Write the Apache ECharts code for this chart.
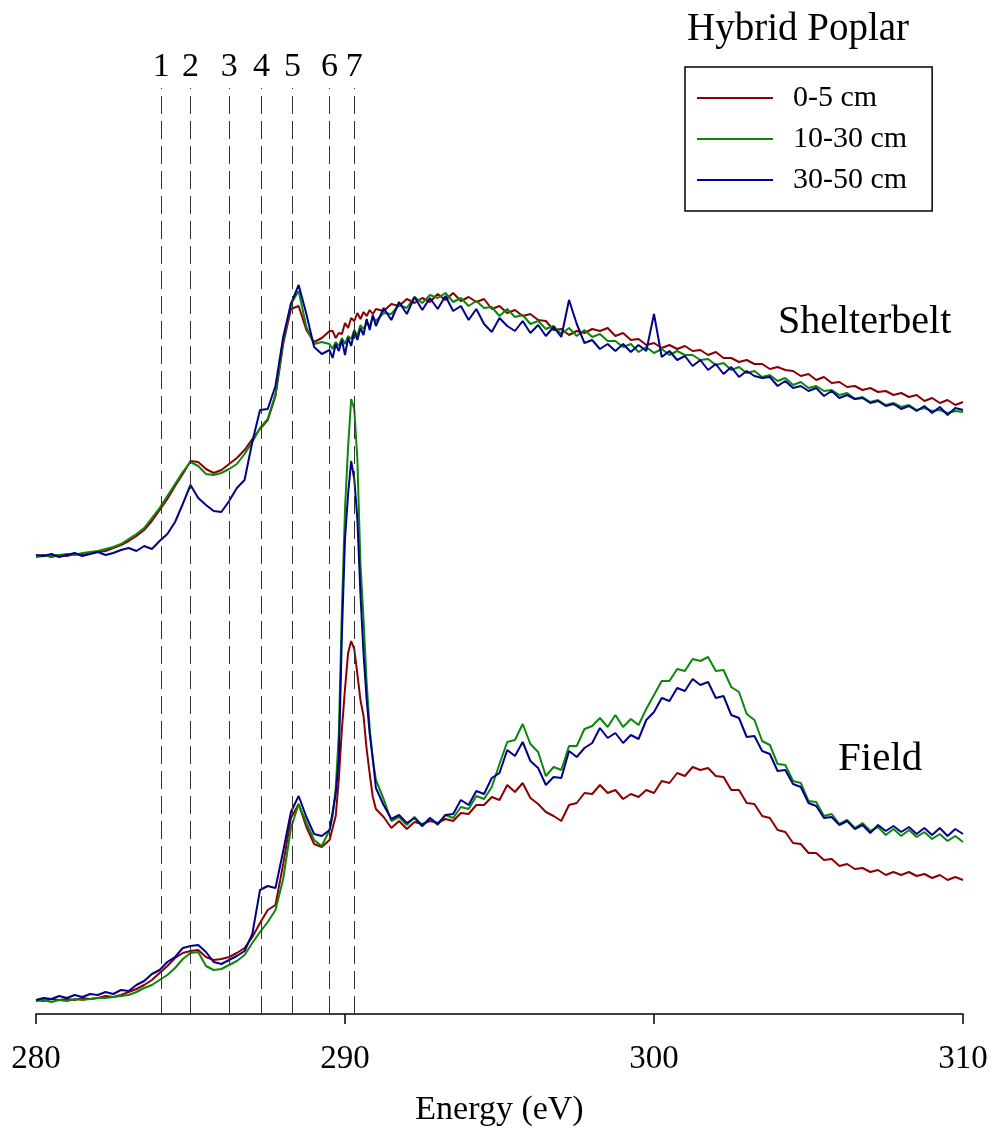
<!DOCTYPE html>
<html>
<head>
<meta charset="utf-8">
<script src="https://cdn.jsdelivr.net/npm/echarts@6/dist/echarts.min.js"></script>
<style>
  html, body { margin: 0; padding: 0; background: #fff; }
  #chart { width: 993px; height: 1133px; }
</style>
</head>
<body>
<div id="chart"></div>
<script>
// photon energy (eV), finer around the 290.3 eV carbonate peak
const energy = [
  280.00, 280.25, 280.50, 280.75, 281.00, 281.25, 281.50, 281.75, 282.00, 282.25,
  282.50, 282.75, 283.00, 283.25, 283.50, 283.75, 284.00, 284.25, 284.50, 284.75,
  285.00, 285.25, 285.50, 285.75, 286.00, 286.25, 286.50, 286.75, 287.00, 287.25,
  287.50, 287.75, 288.00, 288.25, 288.50, 288.75, 289.00, 289.25, 289.50,
  289.6, 289.7, 289.8, 289.9, 290.0, 290.1, 290.2, 290.3, 290.4, 290.5,
  290.6, 290.7, 290.8, 290.9, 291.0,
  291.25, 291.50, 291.75, 292.00, 292.25, 292.50, 292.75, 293.00, 293.25, 293.50,
  293.75, 294.00, 294.25, 294.50, 294.75, 295.00, 295.25, 295.50, 295.75, 296.00,
  296.25, 296.50, 296.75, 297.00, 297.25, 297.50, 297.75, 298.00, 298.25, 298.50,
  298.75, 299.00, 299.25, 299.50, 299.75, 300.00, 300.25, 300.50, 300.75, 301.00,
  301.25, 301.50, 301.75, 302.00, 302.25, 302.50, 302.75, 303.00, 303.25, 303.50,
  303.75, 304.00, 304.25, 304.50, 304.75, 305.00, 305.25, 305.50, 305.75, 306.00,
  306.25, 306.50, 306.75, 307.00, 307.25, 307.50, 307.75, 308.00, 308.25, 308.50,
  308.75, 309.00, 309.25, 309.50, 309.75, 310.00
]

// Shelterbelt spectra (stacked, offset upward)
const shelter05 = [
  45.8, 45.9, 45.7, 45.9, 45.8, 46.0, 45.9, 46.1, 46.2, 46.3,
  46.6, 46.9, 47.3, 47.8, 48.4, 49.3, 50.4, 51.5, 52.8, 54.0,
  55.3, 55.2, 54.5, 54.1, 54.4, 55.0, 55.6, 56.4, 57.5, 58.5,
  59.4, 61.8, 67.0, 70.5, 70.8, 68.4, 67.2, 67.6, 68.3,
  68.3, 67.6, 68.1, 68.0, 69.1, 68.6, 69.6, 69.3, 70.1, 69.5,
  70.2, 69.8, 70.4, 70.0, 70.5,
  70.3, 71.0, 70.8, 71.5, 71.1, 71.6, 71.2, 72.0, 71.4, 72.1,
  71.3, 71.7, 71.2, 71.5, 70.5, 70.8, 70.1, 70.4, 69.8, 70.0,
  69.4, 69.3, 68.4, 68.5, 67.9, 68.3, 68.1, 68.5, 68.3, 68.6,
  67.8, 68.1, 67.4, 67.5, 66.9, 67.1, 66.6, 66.9, 66.5, 66.8,
  66.3, 66.4, 65.9, 66.2, 65.6, 65.6, 65.2, 65.4, 65.0, 65.0,
  64.5, 64.7, 64.4, 64.3, 63.8, 64.0, 63.4, 63.7, 63.1, 63.2,
  62.7, 62.8, 62.4, 62.6, 62.2, 62.3, 61.9, 62.1, 61.7, 61.9,
  61.3, 61.6, 61.1, 61.4, 60.9, 61.2
]
const shelter1030 = [
  45.7, 45.8, 45.8, 45.9, 46.0, 45.9, 46.1, 46.2, 46.3, 46.5,
  46.7, 47.0, 47.5, 48.0, 48.6, 49.6, 50.6, 51.8, 53.0, 54.2,
  55.2, 54.8, 54.0, 53.9, 54.1, 54.5, 55.0, 56.0, 57.2, 58.6,
  59.5, 62.0, 67.3, 71.0, 72.3, 68.7, 67.0, 67.2, 67.0,
  66.5, 67.2, 66.8, 67.6, 67.0, 67.8, 67.5, 68.4, 67.8, 68.9,
  68.5, 69.1, 68.8, 69.7, 69.3,
  70.1, 70.0, 70.9, 70.6, 71.7, 71.1, 71.9, 71.6, 72.1, 71.2,
  71.6, 70.8, 71.3, 70.6, 70.7, 69.8, 70.5, 69.7, 69.9, 69.0,
  69.3, 68.5, 68.8, 68.0, 68.6, 67.8, 68.4, 67.7, 68.0, 67.3,
  67.3, 66.7, 67.0, 66.2, 66.7, 66.1, 66.5, 65.9, 66.3, 65.9,
  65.9, 65.4, 65.5, 64.9, 65.1, 64.4, 64.7, 64.1, 64.3, 63.7,
  63.9, 63.3, 63.6, 62.9, 63.2, 62.6, 62.8, 62.3, 62.4, 61.9,
  62.1, 61.5, 61.7, 61.2, 61.4, 60.9, 61.1, 60.7, 60.9, 60.4,
  60.6, 60.3, 60.4, 60.1, 60.3, 60.2
]
const shelter3050 = [
  45.9, 45.8, 46.0, 45.7, 45.9, 46.1, 45.8, 46.0, 46.2, 45.9,
  46.1, 46.4, 46.6, 46.3, 46.8, 46.5, 47.3, 48.0, 49.2, 51.0,
  52.9, 51.6, 50.9, 50.3, 50.2, 51.3, 52.6, 53.4, 57.2, 60.4,
  60.5, 62.8, 67.7, 71.0, 72.9, 70.0, 66.7, 66.0, 66.4,
  65.6, 67.0, 66.3, 67.4, 65.9, 67.6, 66.8, 68.3, 67.4, 68.6,
  67.9, 69.5, 68.4, 69.9, 68.8,
  70.6, 69.4, 71.2, 70.0, 71.7, 70.4, 71.6, 70.5, 71.8, 70.3,
  70.8, 69.4, 70.5, 69.0, 68.2, 69.6, 68.8, 68.3, 69.3, 68.1,
  68.9, 67.8, 68.7, 67.7, 71.4, 69.0, 67.1, 67.4, 66.5, 67.0,
  66.3, 67.0, 66.2, 66.9, 66.3, 70.0, 65.7, 66.3, 65.4, 65.8,
  64.8, 65.4, 64.4, 65.0, 64.0, 64.7, 63.7, 64.3, 63.8, 63.6,
  63.7, 62.8, 63.3, 62.6, 62.8, 62.3, 62.6, 61.8, 62.3, 61.6,
  61.9, 61.5, 61.6, 61.1, 61.3, 60.8, 61.0, 60.5, 60.8, 60.3,
  60.8, 60.1, 60.7, 59.9, 60.6, 60.4
]

// Field spectra
const field05 = [
  1.4, 1.3, 1.5, 1.4, 1.5, 1.4, 1.6, 1.5, 1.6, 1.8,
  1.7, 1.9, 2.2, 2.5, 2.9, 3.4, 4.1, 4.8, 5.6, 6.1,
  6.3, 6.4, 5.7, 5.4, 5.5, 5.7, 6.1, 6.6, 7.7, 9.1,
  10.4, 10.9, 15.0, 19.6, 21.0, 18.7, 17.0, 16.7, 17.4,
  18.6, 19.8, 23.5, 28.5, 32.5, 36.1, 37.3, 36.5, 34.0, 31.4,
  29.8, 26.5, 24.0, 21.7, 20.5,
  19.7, 18.6, 19.3, 18.5, 19.2, 19.0, 19.3, 19.1, 19.5, 19.3,
  20.1, 20.0, 20.9, 20.9, 21.7, 21.4, 22.9, 22.2, 23.1, 21.6,
  21.0, 20.2, 19.8, 19.3, 20.9, 21.1, 22.1, 22.0, 22.9, 22.1,
  22.4, 21.5, 22.0, 21.7, 22.4, 22.1, 23.3, 23.1, 24.1, 23.8,
  24.7, 24.4, 24.6, 23.8, 23.7, 22.4, 22.4, 21.1, 21.0, 19.8,
  19.6, 18.4, 18.2, 17.1, 17.0, 16.1, 16.1, 15.4, 15.5, 14.8,
  15.0, 14.5, 14.6, 14.2, 14.4, 13.9, 14.2, 13.9, 14.2, 13.8,
  14.0, 13.6, 13.9, 13.4, 13.7, 13.4
]
const field1030 = [
  1.3, 1.4, 1.2, 1.4, 1.3, 1.5, 1.4, 1.5, 1.6, 1.6,
  1.7, 1.8, 1.9, 2.2, 2.6, 2.9, 3.4, 3.9, 4.6, 5.5,
  6.1, 6.2, 4.8, 4.4, 4.5, 4.9, 5.3, 5.9, 7.1, 8.2,
  9.2, 10.4, 13.5, 18.6, 21.0, 19.1, 17.4, 16.8, 18.4,
  19.8, 22.6, 28.0, 40.5, 50.5, 56.7, 61.5, 60.5, 55.5, 45.0,
  39.5, 33.2, 28.5, 25.5, 23.4,
  21.5, 19.3, 19.7, 18.9, 19.7, 18.8, 19.6, 18.9, 19.9, 19.6,
  20.7, 20.5, 21.8, 21.5, 22.7, 25.0, 27.2, 27.4, 29.0, 27.0,
  26.2, 23.8, 24.7, 24.4, 26.8, 26.8, 28.5, 28.8, 29.6, 28.7,
  29.9, 28.7, 29.5, 28.9, 30.5, 31.9, 33.3, 33.3, 34.5, 34.3,
  35.5, 35.3, 35.7, 34.3, 34.4, 32.7, 32.2, 30.0, 29.4, 27.3,
  26.9, 25.0, 24.9, 23.3, 23.1, 21.3, 21.2, 19.8, 20.0, 19.0,
  19.4, 18.6, 19.1, 18.3, 18.7, 17.9, 18.5, 17.8, 18.4, 17.7,
  18.2, 17.5, 18.0, 17.3, 17.8, 17.2
]
const field3050 = [
  1.4, 1.6, 1.5, 1.8, 1.6, 1.9, 1.7, 2.0, 1.9, 2.2,
  2.0, 2.4, 2.3, 2.9, 3.3, 4.0, 4.4, 5.2, 5.7, 6.6,
  6.8, 6.9, 6.2, 5.2, 5.0, 5.4, 5.8, 6.3, 8.0, 12.4,
  12.8, 12.6, 16.3, 20.2, 21.8, 19.7, 18.0, 17.8, 18.4,
  20.2, 22.0, 25.5, 38.0, 47.5, 52.0, 55.3, 53.5, 49.5, 42.0,
  36.0, 31.5, 28.0, 25.5, 22.6,
  20.9, 19.5, 19.9, 19.1, 19.6, 18.8, 19.6, 19.0, 19.9, 20.0,
  21.4, 20.9, 22.3, 22.0, 23.6, 24.1, 26.4, 25.8, 27.2, 25.3,
  24.6, 22.9, 23.7, 23.6, 26.3, 25.7, 26.6, 27.1, 28.6, 27.6,
  28.1, 27.1, 27.9, 27.5, 29.4, 30.2, 31.6, 31.3, 32.6, 32.3,
  33.5, 32.9, 33.2, 31.6, 31.8, 29.9, 29.6, 27.7, 27.8, 26.3,
  26.0, 24.3, 24.4, 23.0, 22.7, 21.1, 20.8, 19.6, 19.7, 18.9,
  19.3, 18.5, 18.9, 18.1, 18.9, 18.3, 18.8, 18.2, 18.7, 18.0,
  18.6, 17.9, 18.6, 17.8, 18.5, 18.0
]

// numbered reference energies (dashed lines)
const peakEnergies = [284.05, 285.0, 286.25, 287.3, 288.3, 289.5, 290.3]
const peakLabels = ['1', '2', '3', '4', '5', '6', '7']
const depthNames = ['0-5 cm', '10-30 cm', '30-50 cm']
const depthColors = ['#8b0000', '#0b870b', '#00008b']

const serif = '"Liberation Serif", "Times New Roman", serif'
const pair = ys => energy.map((e, i) => [e, ys[i]])

const chart = echarts.init(document.getElementById('chart'))

function lineSeries(name, color, ys) {
  return {
    name: name,
    type: 'line',
    symbol: 'none',
    smooth: false,
    lineStyle: { color: color, width: 2 },
    itemStyle: { color: color },
    data: pair(ys)
  }
}

const series = [
  lineSeries(depthNames[0], depthColors[0], shelter05),
  lineSeries(depthNames[1], depthColors[1], shelter1030),
  lineSeries(depthNames[2], depthColors[2], shelter3050),
  lineSeries(depthNames[0], depthColors[0], field05),
  lineSeries(depthNames[1], depthColors[1], field1030),
  lineSeries(depthNames[2], depthColors[2], field3050)
]

series[0].markLine = {
  silent: true,
  symbol: ['none', 'none'],
  lineStyle: { color: '#333', width: 1, type: [18, 7] },
  label: {
    show: true,
    position: 'end',
    distance: 4,
    formatter: '{b}',
    fontFamily: serif,
    fontSize: 34,
    color: '#000'
  },
  data: peakEnergies.map((e, i) => [
    { name: peakLabels[i], coord: [e, 0] },
    { coord: [e, 92.6] }
  ])
}

chart.setOption({
  animation: false,
  backgroundColor: '#fff',
  title: {
    text: 'Hybrid Poplar',
    left: 682,
    top: 5,
    textStyle: { fontFamily: serif, fontSize: 39, fontWeight: 'normal', color: '#000' }
  },
  legend: {
    data: depthNames,
    orient: 'vertical',
    left: 685,
    top: 67,
    padding: [14, 25, 14, 12],
    icon: 'rect',
    itemWidth: 76,
    itemHeight: 2,
    itemGap: 7,
    borderColor: '#000',
    borderWidth: 1.5,
    textStyle: {
      fontFamily: serif,
      fontSize: 30,
      lineHeight: 34,
      color: '#000',
      padding: [0, 0, 0, 15]
    }
  },
  grid: { left: 36, right: 30, top: 14, bottom: 119 },
  xAxis: {
    type: 'value',
    min: 280,
    max: 310,
    interval: 10,
    name: 'Energy (eV)',
    nameLocation: 'middle',
    nameGap: 79,
    nameTextStyle: { fontFamily: serif, fontSize: 34, color: '#000' },
    axisLine: { lineStyle: { color: '#000', width: 1.5 } },
    axisTick: { inside: false, length: 10, lineStyle: { color: '#000', width: 1.5 } },
    axisLabel: { fontFamily: serif, fontSize: 33, color: '#000', margin: 29 },
    splitLine: { show: false }
  },
  yAxis: {
    type: 'value',
    min: 0,
    max: 100,
    show: false
  },
  graphic: [
    {
      type: 'text',
      left: 778,
      top: 302,
      style: { text: 'Shelterbelt', font: '40px ' + serif, fill: '#000' }
    },
    {
      type: 'text',
      left: 838,
      top: 739,
      style: { text: 'Field', font: '41px ' + serif, fill: '#000' }
    }
  ],
  series: series
})
</script>
</body>
</html>
